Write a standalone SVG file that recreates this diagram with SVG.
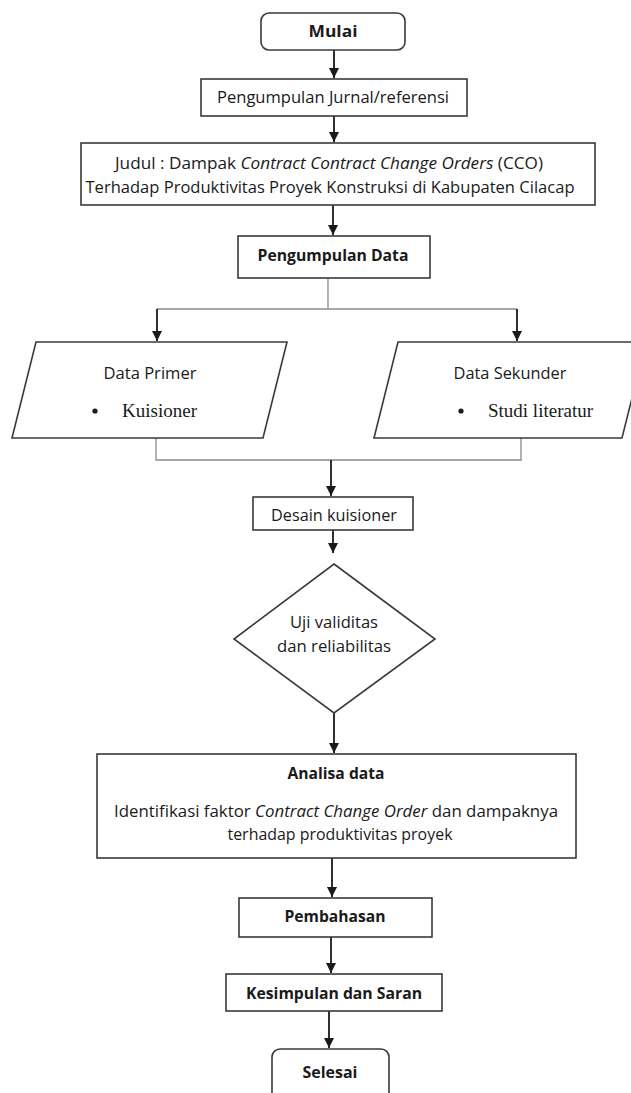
<svg xmlns="http://www.w3.org/2000/svg" width="631" height="1093" viewBox="0 0 631 1093">
<defs>
<style>
.box{fill:#fff;stroke:#3a3a3a;stroke-width:1.6}
.t{font-family:"Open Sans","Liberation Sans",sans-serif;font-size:16.5px;fill:#1a1a1a;text-anchor:middle;font-variant-ligatures:none}
.b{font-weight:bold}
.tm{font-family:"Liberation Serif",serif;font-size:18px;fill:#1a1a1a}
.c{fill:none;stroke:#1a1a1a;stroke-width:1.8}
.g{fill:none;stroke:#8a8a8a;stroke-width:1.3}
</style>
<marker id="ah" markerUnits="userSpaceOnUse" markerWidth="10" markerHeight="11" refX="10" refY="5" orient="auto">
<path d="M0,0 L10,5 L0,10 z" fill="#1a1a1a"/>
</marker>
</defs>
<rect width="631" height="1093" fill="#fff"/>

<g id="connectors">
<path class="c" d="M334,50 V78" marker-end="url(#ah)"/>
<path class="c" d="M334,116 V142" marker-end="url(#ah)"/>
<path class="c" d="M333,205 V235" marker-end="url(#ah)"/>
<path class="g" d="M328,278 V309 M157,309 H517"/>
<path class="c" d="M157,309 V341" marker-end="url(#ah)"/>
<path class="c" d="M517,309 V341" marker-end="url(#ah)"/>
<path class="g" d="M156,438 V460 H521 V438"/>
<path class="c" d="M331,460 V496" marker-end="url(#ah)"/>
<path class="c" d="M333,530 V553" marker-end="url(#ah)"/>
<path class="c" d="M334,713 V753" marker-end="url(#ah)"/>
<path class="c" d="M332,858 V897" marker-end="url(#ah)"/>
<path class="c" d="M331,937 V973" marker-end="url(#ah)"/>
<path class="c" d="M329,1011 V1048" marker-end="url(#ah)"/>
</g>

<g id="mulai">
<rect class="box" x="261" y="13" width="144" height="37" rx="8"/>
<text class="t b" x="333" y="37" textLength="49" lengthAdjust="spacingAndGlyphs">Mulai</text>
</g>

<g id="jurnal">
<rect class="box" x="201" y="79" width="266" height="37"/>
<text class="t" x="333" y="103" textLength="232" lengthAdjust="spacingAndGlyphs">Pengumpulan Jurnal/referensi</text>
</g>

<g id="judul">
<rect class="box" x="81" y="143" width="514" height="62"/>
<text class="t" x="329" y="169" textLength="428" lengthAdjust="spacingAndGlyphs">Judul : Dampak <tspan font-style="italic">Contract Contract Change Orders</tspan> (CCO)</text>
<text class="t" x="330" y="193" textLength="489" lengthAdjust="spacingAndGlyphs">Terhadap Produktivitas Proyek Konstruksi di Kabupaten Cilacap</text>
</g>

<g id="pengumpulan-data">
<rect class="box" x="238" y="236" width="192" height="42"/>
<text class="t b" x="333" y="261" textLength="151" lengthAdjust="spacingAndGlyphs">Pengumpulan Data</text>
</g>

<g id="data-primer">
<polygon class="box" points="36,342 287,342 263,438 12,438"/>
<text class="t" x="150" y="379" textLength="93" lengthAdjust="spacingAndGlyphs">Data Primer</text>
<circle cx="95" cy="411" r="2.6" fill="#1a1a1a"/>
<text class="tm" x="122" y="417" textLength="75" lengthAdjust="spacingAndGlyphs">Kuisioner</text>
</g>

<g id="data-sekunder">
<polygon class="box" points="398,342 646,342 622,438 374,438"/>
<text class="t" x="510" y="379" textLength="113" lengthAdjust="spacingAndGlyphs">Data Sekunder</text>
<circle cx="461" cy="411" r="2.6" fill="#1a1a1a"/>
<text class="tm" x="488" y="417" textLength="105" lengthAdjust="spacingAndGlyphs">Studi literatur</text>
</g>

<g id="desain">
<rect class="box" x="253" y="497" width="160" height="33"/>
<text class="t" x="334" y="521" textLength="126" lengthAdjust="spacingAndGlyphs">Desain kuisioner</text>
</g>

<g id="uji">
<polygon class="box" points="334,564 435,639 334,713 234,639"/>
<text class="t" x="334" y="628" textLength="88" lengthAdjust="spacingAndGlyphs">Uji validitas</text>
<text class="t" x="334" y="652" textLength="114" lengthAdjust="spacingAndGlyphs">dan reliabilitas</text>
</g>

<g id="analisa">
<rect class="box" x="97" y="754" width="479" height="104"/>
<text class="t b" x="336" y="779" textLength="97" lengthAdjust="spacingAndGlyphs">Analisa data</text>
<text class="t" x="336" y="817" textLength="444" lengthAdjust="spacingAndGlyphs">Identifikasi faktor <tspan font-style="italic">Contract Change Order</tspan> dan dampaknya</text>
<text class="t" x="340" y="840" textLength="225" lengthAdjust="spacingAndGlyphs">terhadap produktivitas proyek</text>
</g>

<g id="pembahasan">
<rect class="box" x="239" y="898" width="193" height="39"/>
<text class="t b" x="335" y="922" textLength="101" lengthAdjust="spacingAndGlyphs">Pembahasan</text>
</g>

<g id="kesimpulan">
<rect class="box" x="226" y="974" width="216" height="37"/>
<text class="t b" x="334" y="999" textLength="176" lengthAdjust="spacingAndGlyphs">Kesimpulan dan Saran</text>
</g>

<g id="selesai">
<rect class="box" x="272" y="1049" width="117" height="60" rx="8"/>
<text class="t b" x="330" y="1078" textLength="55" lengthAdjust="spacingAndGlyphs">Selesai</text>
</g>
</svg>
